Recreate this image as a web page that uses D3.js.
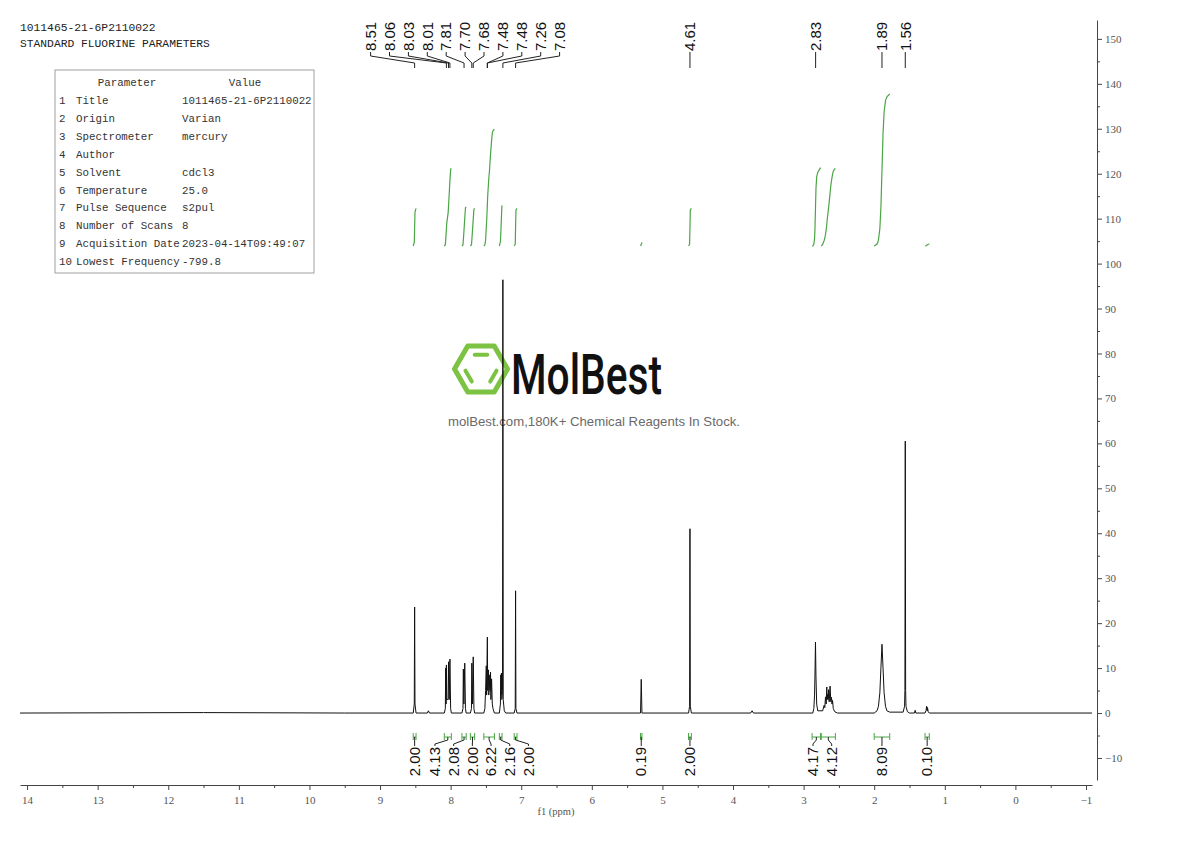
<!DOCTYPE html>
<html><head><meta charset="utf-8">
<script src="https://cdn.jsdelivr.net/npm/d3@7"></script>
<style>body{margin:0;background:#fff}svg{display:block}</style>
</head><body>
<svg id="c" width="1190" height="841"></svg>
<script>
// ---------------- DATA ----------------
const headerLines = ["1011465-21-6P2110022", "STANDARD FLUORINE PARAMETERS"];
const tableParams = ["Title","Origin","Spectrometer","Author","Solvent","Temperature","Pulse Sequence","Number of Scans","Acquisition Date","Lowest Frequency"];
const tableValues = ["1011465-21-6P2110022","Varian","mercury","","cdcl3","25.0","s2pul","8","2023-04-14T09:49:07","-799.8"];

// spectrum trace: [ppm, intensity]
const spectrumTrace = [
 [14.1,0],[11.5,0.1],[9.5,0],
 [8.53,0],[8.515,2],[8.51,23.6],[8.505,2],[8.49,0],
 [8.33,0],[8.315,0.5],[8.30,0],
 [8.09,0],[8.075,1],[8.07,10.0],[8.065,2],[8.06,10.7],[8.055,3],[8.035,3],[8.03,11.4],[8.02,3],[8.01,12.0],[8.0,1],[7.99,0],
 [7.84,0],[7.825,1],[7.82,9.8],[7.812,2],[7.80,11.1],[7.79,1],[7.78,0],
 [7.72,0],[7.705,1],[7.70,11.1],[7.69,2],[7.68,12.5],[7.67,1],[7.66,0],
 [7.53,0],[7.515,1],[7.505,5],[7.495,10.5],[7.49,4],[7.48,16.9],[7.475,5],[7.465,9.6],[7.46,4],[7.45,6],[7.445,8.5],[7.44,5],[7.435,9.1],[7.43,3],[7.42,7.6],[7.41,2],[7.40,1],[7.38,0],
 [7.31,0],[7.295,2],[7.29,8.5],[7.285,4],[7.28,8.9],[7.275,3],[7.265,5],[7.26,96.4],[7.255,3],[7.24,0.5],[7.22,0],
 [7.10,0],[7.085,1],[7.08,27.2],[7.075,1],[7.06,0],
 [5.31,0],[5.30,7.5],[5.29,0],
 [4.63,0],[4.615,1.5],[4.61,41],[4.605,1.5],[4.59,0],
 [3.75,0],[3.73,0.5],[3.71,0],
 [2.87,0],[2.855,1],[2.845,4],[2.84,8],[2.832,15.8],[2.825,8],[2.815,2],[2.80,0.5],
 [2.73,0.5],[2.71,1.7],[2.70,1.2],[2.69,3.6],[2.68,2],[2.672,5.8],[2.665,3],[2.658,4.2],[2.652,3],[2.645,5.2],[2.638,2.5],[2.625,6.0],[2.615,2.5],[2.605,3.5],[2.598,2],[2.59,2.8],[2.58,1],[2.56,0.3],[2.52,0],
 [2.0,0],[1.96,0.5],[1.94,1.5],[1.92,4.5],[1.905,10],[1.89,15.3],[1.875,10],[1.86,4.5],[1.84,1.5],[1.82,0.5],[1.78,0.2],
 [1.59,0.2],[1.57,1.5],[1.565,5],[1.56,60.5],[1.555,5],[1.55,1.5],[1.53,0.3],[1.50,0],
 [1.43,0],[1.42,0.6],[1.41,0],
 [1.28,0],[1.265,0.6],[1.258,1.5],[1.25,0.5],[1.245,1.2],[1.235,0.3],[1.22,0],
 [-1.085,0]
];

const peakLabels = [8.51,8.06,8.03,8.01,7.81,7.70,7.68,7.48,7.48,7.26,7.08,4.61,2.83,1.89,1.56];

const integralFrom   = [8.53,8.09,7.84,7.72,7.53,7.31,7.10,5.31,4.63,2.88,2.75,2.00,1.28];
const integralTo     = [8.49,7.99,7.78,7.66,7.38,7.272,7.06,5.29,4.59,2.76,2.55,1.78,1.22];
const integralValues = [2.00,4.13,2.08,2.00,6.22,2.16,2.00,0.19,2.00,4.17,4.12,8.09,0.10];

const xTickValues = d3.range(-1, 15, 1);
const xMinorValues = d3.range(-0.5, 14, 1);
const yTickValues = d3.range(-10, 151, 10);
const yMinorValues = d3.range(-5, 151, 10);

// ---------------- LAYOUT ----------------
const svg = d3.select("#c");
const GREEN = "#4aa546";
const x = d3.scaleLinear().domain([14.1, -1.085]).range([20, 1092]);
const y = d3.scaleLinear().domain([-14.9, 154.2]).range([780, 20]);
const yInt = d3.scaleLinear().domain([0, 8.09]).range([246, 94]);

// header
svg.selectAll("text.hdr").data(headerLines).join("text")
  .attr("class","hdr").attr("x",20).attr("y",(d,i)=>31+i*16)
  .attr("font-family","Liberation Mono, monospace").attr("font-size",11.3)
  .attr("fill","#222").text(d=>d);

// table
const tb = svg.append("g");
tb.append("rect").attr("x",55).attr("y",70).attr("width",259).attr("height",203)
  .attr("fill","#fff").attr("stroke","#a0a0a0").attr("stroke-width",1);
const tfont = {ff:"Liberation Mono, monospace", fs:10.8};
tb.append("text").attr("x",127).attr("y",86).attr("text-anchor","middle")
  .attr("font-family",tfont.ff).attr("font-size",tfont.fs).attr("fill","#333").text("Parameter");
tb.append("text").attr("x",245).attr("y",86).attr("text-anchor","middle")
  .attr("font-family",tfont.ff).attr("font-size",tfont.fs).attr("fill","#333").text("Value");
tableParams.forEach((p,i)=>{
  const yy = 104 + i*17.9;
  tb.append("text").attr("x",59).attr("y",yy).attr("font-family",tfont.ff).attr("font-size",tfont.fs).attr("fill","#333").text(String(i+1));
  tb.append("text").attr("x",76).attr("y",yy).attr("font-family",tfont.ff).attr("font-size",tfont.fs).attr("fill","#333").text(p);
  tb.append("text").attr("x",182).attr("y",yy).attr("font-family",tfont.ff).attr("font-size",tfont.fs).attr("fill","#333").text(tableValues[i]);
});

// logo watermark
const logo = svg.append("g").attr("transform","translate(481,369)");
const R = 26.5;
const hex = d3.range(6).map(i=>[R*Math.cos(i*Math.PI/3), -R*Math.sin(i*Math.PI/3)]);
logo.append("polygon").attr("points",hex.map(p=>p.join(",")).join(" "))
  .attr("fill","none").attr("stroke","#7cc243").attr("stroke-width",5).attr("stroke-linejoin","round");
const Ri = 16.5;
const ihex = d3.range(6).map(i=>[Ri*Math.cos(i*Math.PI/3), -Ri*Math.sin(i*Math.PI/3)]);
[[1,2],[3,4],[5,0]].forEach(([a,b])=>{
  const p=ihex[a], q=ihex[b], t=0.12;
  logo.append("line")
    .attr("x1",p[0]+(q[0]-p[0])*t).attr("y1",p[1]+(q[1]-p[1])*t)
    .attr("x2",q[0]+(p[0]-q[0])*t).attr("y2",q[1]+(p[1]-q[1])*t)
    .attr("stroke","#7cc243").attr("stroke-width",4).attr("stroke-linecap","round");
});
svg.append("text").attr("x",511).attr("y",394).attr("font-family","Roboto, sans-serif")
  .attr("font-weight",500).attr("font-size",56).attr("textLength",151)
  .attr("lengthAdjust","spacingAndGlyphs").attr("fill","#111").text("MolBest");
svg.append("text").attr("x",448).attr("y",426).attr("font-family","Liberation Sans, Arial, sans-serif")
  .attr("font-size",13).attr("textLength",292).attr("lengthAdjust","spacingAndGlyphs")
  .attr("fill","#6a6a6a").text("molBest.com,180K+ Chemical Reagents In Stock.");

// spectrum
svg.append("path").datum(spectrumTrace)
  .attr("d", d3.line().x(d=>x(d[0])).y(d=>y(d[1])))
  .attr("fill","none").attr("stroke","#111").attr("stroke-width",1);

// integral curves
function interp(ppm){
  for(let i=0;i<spectrumTrace.length-1;i++){
    const a=spectrumTrace[i], b=spectrumTrace[i+1];
    if(ppm<=a[0] && ppm>=b[0]){ const t=(a[0]-ppm)/(a[0]-b[0]||1); return a[1]+(b[1]-a[1])*t; }
  }
  return 0;
}
integralFrom.forEach((f,i)=>{
  const t = integralTo[i];
  const pts = [[f,interp(f)]].concat(spectrumTrace.filter(d=>d[0]<f && d[0]>t)).concat([[t,interp(t)]]);
  let cum=0; const c=[[pts[0][0],0]];
  for(let k=1;k<pts.length;k++){ cum += (pts[k-1][0]-pts[k][0])*(pts[k-1][1]+pts[k][1])/2; c.push([pts[k][0],cum]); }
  const tot = cum||1;
  svg.append("path").datum(c)
    .attr("d", d3.line().x(d=>x(d[0])).y(d=>yInt(d[1]/tot*integralValues[i])))
    .attr("fill","none").attr("stroke",GREEN).attr("stroke-width",1.2);
});

// label spreading (clusters centred on the middle of their extreme members)
function spread(xs, gap){
  let cl = xs.map(v=>({vals:[v]}));
  const center = c=>(d3.min(c.vals)+d3.max(c.vals))/2;
  let changed=true;
  while(changed){
    changed=false;
    for(let i=0;i<cl.length-1;i++){
      const a=cl[i], b=cl[i+1];
      const aEnd = center(a)+(a.vals.length-1)*gap/2;
      const bStart = center(b)-(b.vals.length-1)*gap/2;
      if(bStart-aEnd < gap){ cl.splice(i,2,{vals:a.vals.concat(b.vals)}); changed=true; break; }
    }
  }
  const out=[];
  cl.forEach(c=>{ const m=center(c), n=c.vals.length; c.vals.forEach((v,k)=>out.push(m-(n-1)*gap/2+k*gap)); });
  return out;
}
const labFont = "Liberation Sans, Arial, sans-serif";

// top peak labels
const pkX = peakLabels.map(p=>x(p));
const pkL = spread(pkX, 18.9);
peakLabels.forEach((p,i)=>{
  const lx=pkL[i], px=pkX[i];
  svg.append("text").attr("transform",`translate(${lx},51) rotate(-90)`)
    .attr("dy","0.35em").attr("font-family",labFont).attr("font-size",15).attr("fill","#111")
    .text(p.toFixed(2));
  svg.append("path").attr("d",`M${lx},52V56L${px},63V68`).attr("fill","none").attr("stroke","#222").attr("stroke-width",1);
});

// bottom integral brackets + labels
const intC = integralFrom.map((f,i)=>x((f+integralTo[i])/2));
const intL = spread(intC, 18.7);
integralFrom.forEach((f,i)=>{
  const x1=x(f), x2=x(integralTo[i]), cx=intC[i], lx=intL[i];
  svg.append("path").attr("d",`M${x1},733V740M${x1},737H${x2}M${x2},733V740`)
    .attr("fill","none").attr("stroke",GREEN).attr("stroke-width",1);
  svg.append("path").attr("d",`M${cx},737V740L${lx},744V746`).attr("fill","none").attr("stroke","#222").attr("stroke-width",1);
  svg.append("text").attr("transform",`translate(${lx},747) rotate(-90)`)
    .attr("dy","0.35em").attr("text-anchor","end").attr("font-family",labFont).attr("font-size",15).attr("fill","#111")
    .text(integralValues[i].toFixed(2));
});

// axes
const axFont = "Liberation Serif, serif";
const fmt = d=> d<0 ? "\u2212"+(-d) : String(d);
const gx = svg.append("g").attr("transform","translate(0,785)")
  .call(d3.axisBottom(x).tickValues(xTickValues).tickSize(5).tickSizeOuter(0).tickPadding(6).tickFormat(fmt));
svg.append("g").attr("transform","translate(0,785)")
  .call(d3.axisBottom(x).tickValues(xMinorValues).tickSize(3).tickFormat(""))
  .call(g=>g.select(".domain").remove());
const gy = svg.append("g").attr("transform","translate(1097,0)")
  .call(d3.axisRight(y).tickValues(yTickValues).tickSize(5).tickSizeOuter(0).tickPadding(3).tickFormat(fmt));
svg.append("g").attr("transform","translate(1097,0)")
  .call(d3.axisRight(y).tickValues(yMinorValues).tickSize(3).tickFormat(""))
  .call(g=>g.select(".domain").remove());
svg.selectAll(".tick line, .domain").attr("stroke","#444");
[gx,gy].forEach(g=>g.selectAll("text").attr("font-family",axFont).attr("font-size",11).attr("fill","#555"));
svg.append("text").attr("x",556).attr("y",815).attr("text-anchor","middle")
  .attr("font-family",axFont).attr("font-size",10.5).attr("fill","#555").text("f1 (ppm)");
</script>
</body></html>
